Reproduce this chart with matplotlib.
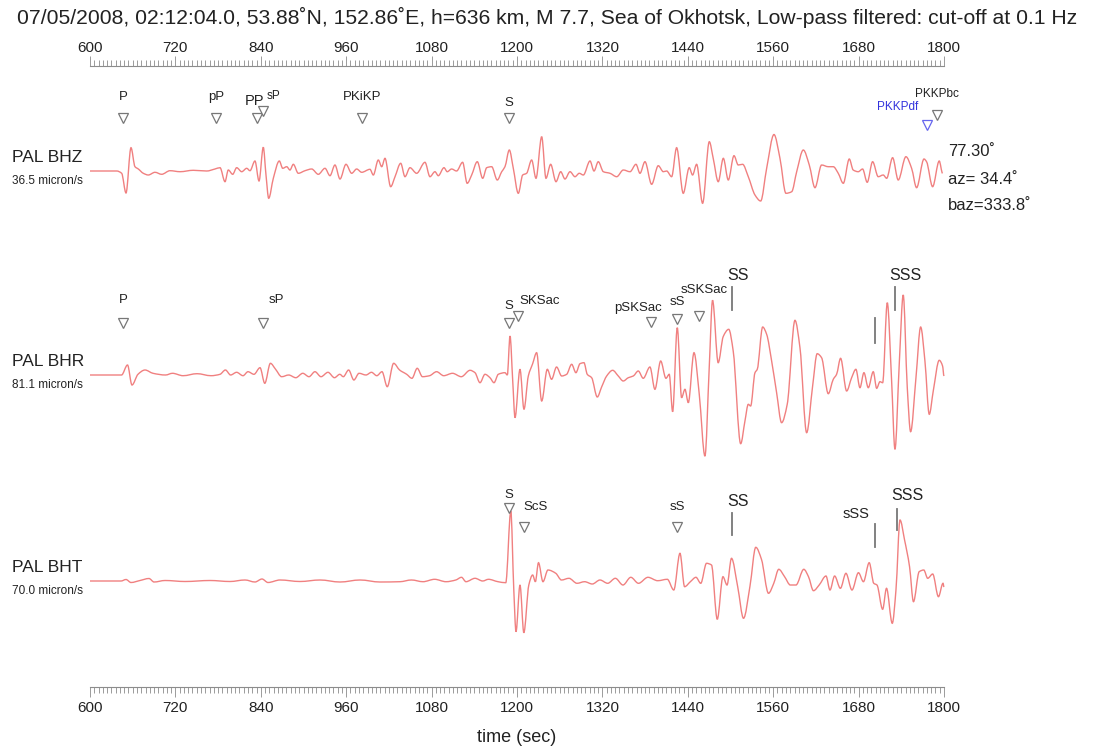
import numpy as np
import matplotlib
matplotlib.use("Agg")
import matplotlib.pyplot as plt
from matplotlib.ticker import MultipleLocator
from matplotlib.path import Path
from matplotlib.patches import PathPatch

plt.rcParams["font.family"] = ["Liberation Sans", "DejaVu Sans"]

TITLE = ("07/05/2008, 02:12:04.0, 53.88˚N, 152.86˚E, h=636 km, M 7.7, "
         "Sea of Okhotsk, Low-pass filtered: cut-off at 0.1 Hz")

# ----------------------------------------------------------------------
# trazas (tiempo en s, amplitud en micron/s), leidas del sismograma
# ----------------------------------------------------------------------
bhz_t = [600, 637.5, 644.5, 650.6, 657.6, 663.2, 667.9, 674.9, 681.9, 691.3,
         700.7, 712.4, 726.5, 745.1, 764, 775.6, 782.7, 789.7, 794.3, 800.5,
         806.1, 813.2, 820.2, 824.8, 831.8, 837.5, 843.5, 847.3, 851.1, 857.6,
         866, 870.8, 876.4, 881, 885.7, 892.7, 902.1, 911.5, 920.8, 930.2,
         937.2, 944.2, 951.3, 959.7, 967.7, 974.7, 981.8, 993.4, 998.1, 1005.1,
         1009.9, 1014.5, 1022.5, 1028.6, 1036.6, 1042.6, 1049.6, 1059, 1070.7, 1077.7,
         1084.7, 1089.4, 1097.4, 1102, 1108.1, 1115.1, 1123.6, 1130, 1136.3, 1144.2,
         1151.8, 1157.4, 1164.4, 1172.3, 1178.5, 1183.1, 1189.2, 1194.8, 1201.8, 1208,
         1213.5, 1220.6, 1226.7, 1234.7, 1240.7, 1247.3, 1254.8, 1261.4, 1267.4, 1274.5,
         1281.5, 1287.5, 1293.2, 1302.6, 1308.2, 1314.2, 1321.3, 1330.7, 1340.1, 1349.4,
         1358.8, 1367.2, 1372.8, 1379.8, 1389.2, 1398.5, 1405.6, 1410.3, 1417.3, 1424.3,
         1433.6, 1442, 1446.7, 1452.4, 1460.8, 1470.2, 1475.7, 1482.8, 1489.9, 1496.9,
         1504.9, 1510.9, 1517, 1525, 1534.4, 1542.4, 1550.8, 1561.1, 1569.5, 1577.9,
         1586, 1593, 1602.3, 1610.7, 1618.7, 1628, 1637.4, 1644.4, 1651.4, 1658.5,
         1666.9, 1672.4, 1679.5, 1685.6, 1692.1, 1699.7, 1707.6, 1714.6, 1719.4, 1727.8,
         1735.7, 1746.5, 1754.5, 1761.5, 1771.9, 1775.5, 1784, 1793.3, 1798]
bhz_a = [0, 0, -2.3, -22, 23.3, 4.3, 2, -2.3, -4, -1.3,
         -3.3, 0.3, -0.7, 0.7, 0, 2, 3.3, -10.7, 1, -3.3,
         3.3, -0.7, 2.7, 0.3, 10, -10, 23.7, -4, -27.3, -7.3,
         10, 2.7, 4.3, 1, 6.7, -2.3, 0.3, 2, -3.3, 2.7,
         -4.7, 6, -8, 6.7, -2.3, 2, -1.3, 1.7, -4, 11,
         4.3, 12.7, -15.7, -5.7, 7.7, -5.7, 3.3, -2.3, 8.7, -5.7,
         -0.7, -4.7, 3.3, -0.7, 2, 0, 8.7, -12.3, -4, 9.3,
         -7.3, 3.3, 4.3, -9, -0.7, 4.3, 21, 2.7, -22.3, -4,
         -2.3, 11, -7.3, 34.3, -7.3, 6.7, -10.7, -0.7, -8, -0.7,
         -5.7, -2.3, -4, 10, 0, 9.3, -0.7, -2.3, -5.7, 1,
         -0.7, 6.7, -2.3, 9.3, -13.3, 5.3, -0.7, 0, -5.7, 23.3,
         -22.3, 3.3, -4, 6.7, -32.3, 29.3, 12.7, -10.7, 12.7, -9,
         15.3, 6, 6.7, -5.7, -24, -30, 2.7, 36.5, 12.7, -22.3,
         -20.7, -0.7, 21, 6, -16.7, 6, 4.3, 4.3, -2.3, -12.3,
         12, 1, -0.7, 2, -11.3, 9.3, -5.7, -4, -7.3, 13.3,
         -9, 14.3, 2.7, -16.7, 12, 9.3, -15.7, 10, -2.3]

bhr_t = [600, 644.3, 652.7, 659, 667.4, 677.3, 688.5, 706.1, 715.9, 730.7,
         750.4, 770, 782.7, 790.3, 797.6, 806, 815, 822, 830.4, 838.9,
         845.6, 853.5, 860.5, 869.4, 879.2, 889.2, 899, 907.7, 916.1, 924.6,
         934.4, 943.5, 951, 955.9, 963.4, 970.8, 978, 987.8, 995.5, 1003,
         1010.3, 1017.7, 1026.7, 1035, 1045, 1052.4, 1059.8, 1067.2, 1077.2, 1087,
         1097, 1109.4, 1121.7, 1134, 1141, 1148, 1155, 1162, 1167.7, 1173.7,
         1183.1, 1186.4, 1190.2, 1194, 1197.2, 1204.2, 1209.8, 1215.9, 1222, 1227.6,
         1234.7, 1242.6, 1248.6, 1255.6, 1262.8, 1269.8, 1276.8, 1282.8, 1288.5, 1294.1,
         1298.7, 1304.9, 1312.8, 1318.9, 1326, 1334.4, 1342.3, 1349.3, 1356.4, 1363.4,
         1370.4, 1377.4, 1386.8, 1393.8, 1401.9, 1409.3, 1413.9, 1418.7, 1425.2, 1431.3,
         1436, 1440.7, 1448.7, 1456.1, 1464.1, 1470.1, 1474.8, 1482.7, 1489.8, 1497.5,
         1503.8, 1514.3, 1520.3, 1525, 1528.3, 1534.4, 1537.6, 1545.2, 1550.8, 1557.8,
         1564.8, 1571.8, 1579.7, 1590.6, 1597.6, 1607, 1615.4, 1621.8, 1628, 1637.4,
         1644.4, 1649.1, 1654.7, 1663.2, 1670.2, 1676.2, 1681.9, 1687.5, 1693.6, 1700.6,
         1705.4, 1710, 1713.8, 1720.3, 1726.4, 1731.1, 1737.1, 1742.7, 1748.4, 1753.1,
         1760.6, 1767.2, 1773.2, 1779.3, 1784.9, 1793.3, 1798, 1800]
bhr_a = [0, 0, 10, -10, 0.7, 5, 1.7, 0, 1.7, -0.7,
         1.3, -0.7, 0.7, 5, 0, 2.7, -0.7, 3.3, 0.7, 7.3,
         -8.3, 11.7, 6, -1.7, 0, -2.7, 1.7, -1.7, 3.3, -1.7,
         2.7, -2.7, 0.7, -1.7, 5, -5, 1.7, 0, 2.7, -0.7,
         3.3, -11.7, 11.7, 5, 0.7, -3.3, 6.7, -1.7, -0.7, 3.3,
         -0.7, 1.7, -1.7, 4.7, 2.3, -7.7, 0.7, -2.7, -7.7, 0.7,
         2.3, 0, 39, -6, -42.7, 5.7, -34.3, -1, 11.3, 22.3,
         -26, 5.7, -4.3, 8, -1, 0.7, 10.7, 2.3, 11.3, 12.3,
         0.7, -2.7, -22, -12, -1, 4.7, -1, -6, -2.7, -1,
         4, -3.3, 8, -14.3, 14, -3.3, 0.7, -36.7, 47.3, -22.7,
         -14.3, -27.7, 22.3, -19.3, -81.1, 7.3, 74.7, 12.3, 38.5, 45.7,
         24, -68.7, -46, -29.3, -31, 2.3, 5.7, 48, 40.7, 14,
         -17.7, -47.7, -29.3, 54.7, 27.3, -57.7, -11, 21.3, 17.3, -18.7,
         -4.3, 0.7, 16.7, -16, -2.7, 5.7, -12.7, 2.3, -12.7, 3.3,
         -13.3, -6.7, -7.7, 72.3, -6, -74.3, 10.7, 80, -12.7, -56.7,
         -2.7, 48, 14, -39.3, -16, 14.7, 9, -1]

bht_t = [600, 643.6, 650.6, 657.6, 670.3, 682.9, 690, 705.4, 733.5, 768.6,
         796.7, 817.8, 831.8, 841.7, 850.1, 867, 895, 923.2, 951.3, 979.4,
         1007.5, 1035.6, 1051.7, 1067.9, 1084.2, 1100.2, 1114, 1122, 1128.3, 1141,
         1151.8, 1159.9, 1173.3, 1184.2, 1191.3, 1195.5, 1198.6, 1204.2, 1209.6, 1216.6,
         1222, 1225.8, 1230.2, 1236.5, 1243.5, 1254.5, 1262.5, 1273, 1284.3, 1295,
         1305.8, 1316.6, 1327.4, 1338.2, 1348.9, 1359.9, 1370.7, 1384, 1397.7, 1411.2,
         1420.3, 1429, 1435.5, 1443.6, 1451.5, 1458.2, 1466.3, 1473.3, 1481.4, 1489.4,
         1495.1, 1501.4, 1510.1, 1518.3, 1527.4, 1535.5, 1543.5, 1553.4, 1560.8, 1567.8,
         1576, 1584.1, 1592, 1603, 1609.6, 1616.6, 1624.6, 1634.2, 1639.8, 1646.3,
         1654.4, 1662.2, 1670.7, 1679.8, 1686.8, 1694.9, 1701.3, 1705.8, 1713.8, 1719.2,
         1727.3, 1732.5, 1738.2, 1744.6, 1751.6, 1757.1, 1765.1, 1771.6, 1777.1, 1784.1,
         1792.2, 1798.6, 1800]
bht_a = [0, 0, 1.5, -1.5, 0.5, 2.5, -1, 0.5, -0.5, 0.5,
         -0.5, 1, -1, 2, -1.5, 1, -0.5, 1, -1, 1,
         -1, -0.7, 1, -0.7, 1.7, -0.7, 1, 3.7, -0.7, 2.7,
         0, 1.7, -0.7, -1.7, 70, -9, -50.7, -4, -51.7, -4,
         6, -0.7, 18.3, -0.7, 11, 7.7, 1, 2.7, -2.3, -0.7,
         -3, 1, -2.3, 2.7, -4, 3.7, -2.3, 3.7, 0.3, 1.7,
         -9, 27.7, -5.7, -0.7, 3.7, -2.3, 17.7, 16, -38.3, 4.3,
         -4, 22.7, -5.7, -37.3, -5, 33.7, 21.7, -12.3, -2.3, 11.7,
         4.3, -4, -4, 11.7, 4.3, -9.7, -4, 5, -9, 5,
         -7.3, 7.7, -9, 8.3, -0.7, 18.3, -2.3, -4, -28.3, -7.3,
         -42.3, -9, 61, 41, 14.3, -20.7, 9.3, 11, 2.7, 7,
         -15.7, -2.3, -6]

# fases (nombre, tiempo en s)
bhz_fases = ["P", "pP", "PP", "sP", "PKiKP", "S", "PKKPdf", "PKKPbc"]
bhz_tfase = [646.4, 777, 834.6, 843, 982.2, 1188.7, 1776, 1790]
bhr_fases = ["P", "sP", "S", "SKSac", "pSKSac", "sS", "sSKSac"]
bhr_tfase = [646.4, 843, 1188.7, 1201.3, 1388.2, 1424.8, 1455.7]
bht_fases = ["S", "ScS", "sS"]
bht_tfase = [1188.7, 1209.8, 1424.8]
# fases marcadas con barra vertical
bhr_barras = ["SS", "", "SSS"]
bhr_tbarra = [1502, 1703, 1731]
bht_barras = ["SS", "sSS", "SSS"]
bht_tbarra = [1502, 1703, 1734]

estaciones = ["PAL BHZ", "PAL BHR", "PAL BHT"]
escalas = ["36.5 micron/s", "81.1 micron/s", "70.0 micron/s"]
info = ["77.30˚", "az= 34.4˚", "baz=333.8˚"]
ticks_t = [600, 720, 840, 960, 1080, 1200, 1320, 1440, 1560, 1680, 1800]


def curva_suave(x, y):
    """Trazo tipo PCHIP como curvas Bezier cubicas por los puntos leidos."""
    x = np.asarray(x, float)
    y = np.asarray(y, float)
    h = np.diff(x)
    d = np.diff(y) / h
    m = np.zeros_like(y)
    for i in range(1, len(y) - 1):
        if d[i - 1] * d[i] > 0:
            w1 = 2 * h[i] + h[i - 1]
            w2 = h[i] + 2 * h[i - 1]
            m[i] = (w1 + w2) / (w1 / d[i - 1] + w2 / d[i])
    verts = [(x[0], y[0])]
    codes = [Path.MOVETO]
    for i in range(len(x) - 1):
        verts += [(x[i] + h[i] / 3, y[i] + m[i] * h[i] / 3),
                  (x[i + 1] - h[i] / 3, y[i + 1] - m[i + 1] * h[i] / 3),
                  (x[i + 1], y[i + 1])]
        codes += [Path.CURVE4] * 3
    return Path(verts, codes)


# ----------------------------------------------------------------------
# figura: eje y en pixeles de la figura (invertido)
# ----------------------------------------------------------------------
W, H = 1094, 747
fig = plt.figure(figsize=(W / 100, H / 100), dpi=100)
y_top, y_bot = 66, 687
ax = fig.add_axes([90 / W, 1 - y_bot / H, 854 / W, (y_bot - y_top) / H])
ax.set_xlim(600, 1800)
ax.set_ylim(y_bot, y_top)

for s in ["left", "right"]:
    ax.spines[s].set_visible(False)
for s in ["top", "bottom"]:
    ax.spines[s].set_color("#8c8c8c")
    ax.spines[s].set_linewidth(0.8)
ax.set_xticks(ticks_t)
ax.xaxis.set_minor_locator(MultipleLocator(6))
ax.tick_params(axis="x", which="both", top=True, bottom=True, labeltop=False,
               labelbottom=True, direction="out", color="#8c8c8c", width=0.6,
               labelsize=11, labelcolor="#222222", pad=3)
ax.tick_params(axis="x", which="major", length=7)
ax.tick_params(axis="x", which="minor", length=4)
ax.tick_params(axis="y", left=False, labelleft=False)
ax.set_xlabel("time (sec)", fontsize=13, labelpad=10, color="#222222")

# etiquetas del eje superior, un poco mas cerca de las marcas
for t in ticks_t:
    ax.text(t, 48, str(t), fontsize=11, color="#222222", ha="center",
            va="center", clip_on=False)

fig.text(0.5, 1 - 17 / H, TITLE, ha="center", va="center", fontsize=15.2,
         color="#222222")

base = [171, 375, 581]
col_traza = "#f08080"
for tt, aa, b in zip([bhz_t, bhr_t, bht_t], [bhz_a, bhr_a, bht_a], base):
    trazo = curva_suave(tt, b - np.array(aa))
    ax.add_patch(PathPatch(trazo, fill=False, edgecolor=col_traza, lw=1.0,
                           clip_on=False))

# etiquetas de estacion
for nom, esc, b in zip(estaciones, escalas, base):
    ax.text(-78 / 854, b - 13, nom, transform=ax.get_yaxis_transform(),
            fontsize=12.5, va="center", ha="left", color="#222222")
    ax.text(-78 / 854, b + 10, esc, transform=ax.get_yaxis_transform(),
            fontsize=8.5, va="center", ha="left", color="#222222")

for i, txt in enumerate(info):
    ax.text(1806, 152 + 27 * i, txt, fontsize=12, va="center", ha="left",
            color="#222222", clip_on=False)

gris = "#777777"


def triangulo(t, y, color=gris):
    ax.plot([t], [y], marker="v", ms=7.5, mfc="white", mec=color, mew=0.9,
            clip_on=False)


# BHZ: posicion (y triangulo, dx texto, y texto, tamano, color)
bhz_estilo = {
    "P": (118, 0, 97, 9.5, "#222222"),
    "pP": (118, 0, 97, 9.5, "#222222"),
    "PP": (118, -3, 101, 10.5, "#222222"),
    "sP": (111, 15, 96, 8.5, "#222222"),
    "PKiKP": (118, 0, 97, 9.5, "#222222"),
    "S": (118, 0, 103, 9.5, "#222222"),
    "PKKPdf": (125, -12, 107, 8.5, "#3333dd"),
    "PKKPbc": (115, 0, 94, 8.5, "#222222"),
}
for nom, t in zip(bhz_fases, bhz_tfase):
    yt, dx, ytx, fs, c = bhz_estilo[nom]
    triangulo(t, yt, gris if nom != "PKKPdf" else "#6666ee")
    ha = "right" if nom == "PKKPdf" else "center"
    ax.text(t + dx, ytx, nom, fontsize=fs, color=c, ha=ha, va="center",
            clip_on=False)

bhr_estilo = {
    "P": (323, 0, 300),
    "sP": (323, 19, 300),
    "S": (323, 0, 306),
    "SKSac": (316, 30, 301),
    "pSKSac": (322, -18, 308),
    "sS": (319, 0, 302),
    "sSKSac": (316, 8, 290),
}
for nom, t in zip(bhr_fases, bhr_tfase):
    yt, dx, ytx = bhr_estilo[nom]
    triangulo(t, yt)
    ax.text(t + dx, ytx, nom, fontsize=9.5, color="#222222", ha="center",
            va="center", clip_on=False)

bht_estilo = {
    "S": (508, 0, 495),
    "ScS": (527, 16, 507),
    "sS": (527, 0, 507),
}
for nom, t in zip(bht_fases, bht_tfase):
    yt, dx, ytx = bht_estilo[nom]
    triangulo(t, yt)
    ax.text(t + dx, ytx, nom, fontsize=9.5, color="#222222", ha="center",
            va="center", clip_on=False)

# barras verticales (y0, y1, dx texto, y texto)
bhr_bar_pos = [(287, 310, 8, 276), (318, 343, 0, 0), (287, 310, 15, 276)]
bht_bar_pos = [(513, 535, 8, 501), (524, 547, -26, 514), (509, 530, 14, 496)]
for noms, tts, pos in [(bhr_barras, bhr_tbarra, bhr_bar_pos),
                       (bht_barras, bht_tbarra, bht_bar_pos)]:
    for nom, t, (y0, y1, dx, ytx) in zip(noms, tts, pos):
        ax.plot([t, t], [y0, y1], color=gris, lw=1.3, clip_on=False)
        if nom:
            ax.text(t + dx, ytx, nom, fontsize=11.5 if nom != "sSS" else 10.5,
                    color="#222222", ha="center", va="center", clip_on=False)

fig.savefig("out.png", dpi=100)
